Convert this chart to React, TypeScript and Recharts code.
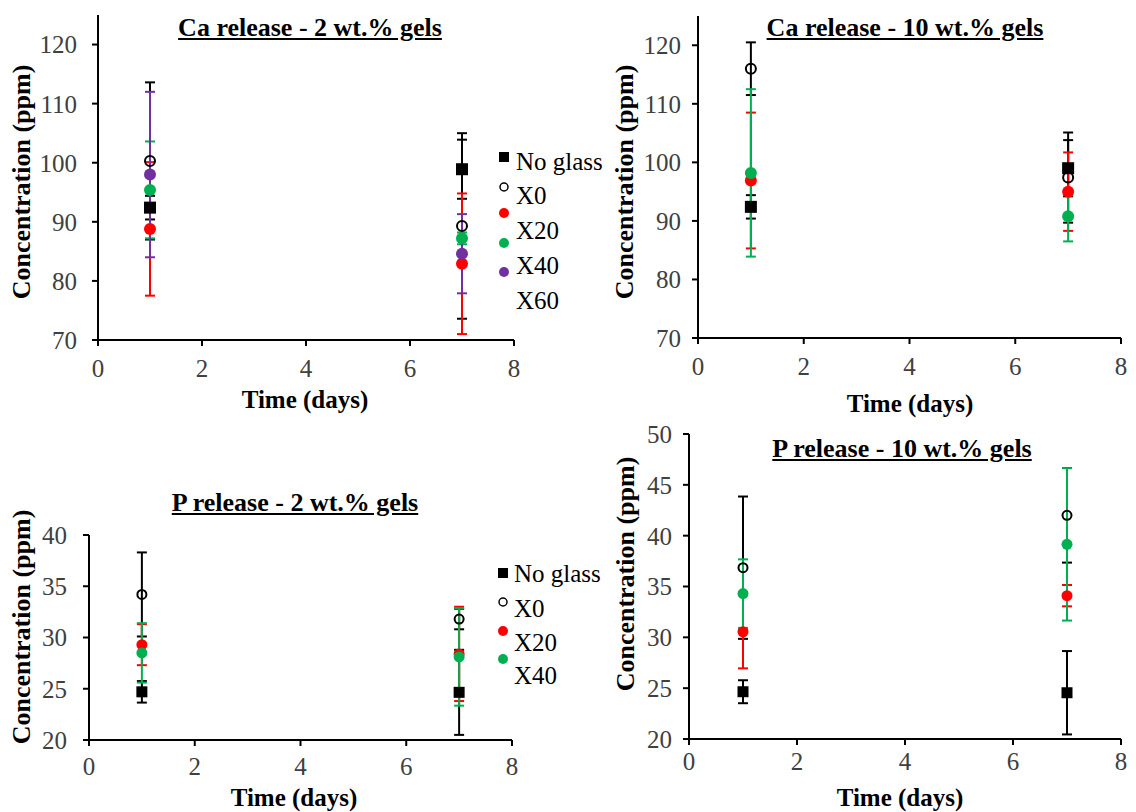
import React from 'react';
import { ScatterChart, Scatter, XAxis, YAxis, ErrorBar } from 'recharts';

const DAYS = [1, 7];
const X_TICKS = [0, 2, 4, 6, 8];
const SERIES_NAMES = ['No glass', 'X0', 'X20', 'X40', 'X60'];
const SERIES_COLORS = ['#000000', '#000000', '#ff0000', '#00b050', '#7030a0'];

// Ca release - 2 wt.% gels, mean and sd at day 1 / day 7
const ca2NoGlass = [92.4, 98.9];
const ca2NoGlassSd = [2.0, 5.0];
const ca2X0 = [100.3, 89.3];
const ca2X0Sd = [13.3, 15.7];
const ca2X20 = [88.8, 82.9];
const ca2X20Sd = [11.3, 11.9];
const ca2X40 = [95.4, 87.2];
const ca2X40Sd = [8.2, 1.0];
const ca2X60 = [98.0, 84.6];
const ca2X60Sd = [14.0, 6.7];

// Ca release - 10 wt.% gels
const ca10NoGlass = [92.4, 99.0];
const ca10NoGlassSd = [2.0, 4.8];
const ca10X0 = [116.0, 97.4];
const ca10X0Sd = [4.5, 7.7];
const ca10X20 = [96.9, 95.0];
const ca10X20Sd = [11.6, 6.7];
const ca10X40 = [98.2, 90.8];
const ca10X40Sd = [14.3, 4.3];

// P release - 2 wt.% gels
const p2NoGlass = [24.7, 24.65];
const p2NoGlassSd = [1.05, 4.15];
const p2X0 = [34.2, 31.8];
const p2X0Sd = [4.1, 1.0];
const p2X20 = [29.3, 28.4];
const p2X20Sd = [2.0, 4.6];
const p2X40 = [28.5, 28.1];
const p2X40Sd = [2.9, 4.75];

// P release - 10 wt.% gels
const p10NoGlass = [24.65, 24.55];
const p10NoGlassSd = [1.13, 4.1];
const p10X0 = [36.85, 42.0];
const p10X0Sd = [7.0, 4.65];
const p10X20 = [30.55, 34.1];
const p10X20Sd = [3.6, 1.05];
const p10X40 = [34.3, 39.15];
const p10X40Sd = [3.37, 7.5];

const CA_TICKS = [70, 80, 90, 100, 110, 120];
const P2_TICKS = [20, 25, 30, 35, 40];
const P10_TICKS = [20, 25, 30, 35, 40, 45, 50];

const FONT = '"Liberation Serif", "Times New Roman", serif';

const markerShape = (i: number, s: number) => (props: any) => {
  const { cx, cy } = props;
  if (i === 0) return <rect x={cx - s / 2} y={cy - s / 2} width={s} height={s} fill="#000" />;
  if (i === 1) return <circle cx={cx} cy={cy} r={s / 2 - 1} fill="none" stroke="#000" strokeWidth={2} />;
  return <circle cx={cx} cy={cy} r={s / 2} fill={SERIES_COLORS[i]} />;
};

const Panel = ({ geo, means, sds, yDomain, yTicks, yMargin, xMargin, size }: any) => {
  const { L, T, R, B } = geo;
  const yAxisW = 80;
  const xAxisH = 50;
  const pad = 20;
  const left = L - yAxisW;
  const top = T - pad;
  const width = R + 10 - left;
  const height = B + xAxisH - top;
  const series = means.map((m: number[], i: number) =>
    DAYS.map((d, j) => ({ x: d, y: m[j], err: sds[i][j] }))
  );
  const tickStyle = { fill: '#404040', fontSize: 25, fontFamily: FONT };
  return (
    <div style={{ position: 'absolute', left, top }}>
      <ScatterChart width={width} height={height} margin={{ top: pad, right: 10, bottom: 0, left: 0 }}>
        <XAxis
          type="number"
          dataKey="x"
          domain={[0, 8]}
          ticks={X_TICKS}
          interval={0}
          height={xAxisH}
          axisLine={{ stroke: '#000', strokeWidth: 2 }}
          tickLine={{ stroke: '#000', strokeWidth: 2 }}
          tickSize={6}
          tickMargin={xMargin}
          tick={tickStyle}
        />
        <YAxis
          type="number"
          dataKey="y"
          domain={yDomain}
          ticks={yTicks}
          interval={0}
          width={yAxisW}
          axisLine={{ stroke: '#000', strokeWidth: 2 }}
          tickLine={{ stroke: '#000', strokeWidth: 2 }}
          tickSize={6}
          tickMargin={yMargin}
          tick={tickStyle}
        />
        {series.map((data: any[], i: number) => (
          <Scatter key={'err' + i} data={data} shape={() => <g />} isAnimationActive={false}>
            <ErrorBar dataKey="err" direction="y" width={5} stroke={SERIES_COLORS[i]} strokeWidth={2} isAnimationActive={false} />
          </Scatter>
        ))}
        {series.map((data: any[], i: number) => (
          <Scatter key={'pt' + i} name={SERIES_NAMES[i]} data={data} shape={markerShape(i, size)} isAnimationActive={false} />
        ))}
      </ScatterChart>
    </div>
  );
};

const Title = ({ x, y, text }: any) => (
  <div style={{ position: 'absolute', left: x, top: y, transform: 'translate(-50%, -50%)', whiteSpace: 'nowrap',
    fontFamily: FONT, fontWeight: 'bold', fontSize: 26, textDecoration: 'underline', color: '#000' }}>
    {text}
  </div>
);

const AxisTitle = ({ x, y, text, rotate, size = 25 }: any) => (
  <div style={{ position: 'absolute', left: x, top: y, transform: `translate(-50%, -50%)${rotate ? ' rotate(-90deg)' : ''}`,
    whiteSpace: 'nowrap', fontFamily: FONT, fontWeight: 'bold', fontSize: size, color: '#000' }}>
    {text}
  </div>
);

const LegendMark = ({ i, x, y }: any) => (
  <svg style={{ position: 'absolute', left: x - 7, top: y - 7 }} width={14} height={14}>
    {i === 0 && <rect x={2} y={2} width={10} height={10} fill="#000" />}
    {i === 1 && <circle cx={7} cy={7} r={4} fill="none" stroke="#000" strokeWidth={1.5} />}
    {i > 1 && <circle cx={7} cy={7} r={5} fill={SERIES_COLORS[i]} />}
  </svg>
);

const LegendText = ({ x, y, text }: any) => (
  <div style={{ position: 'absolute', left: x, top: y, transform: 'translateY(-50%)', whiteSpace: 'nowrap',
    fontFamily: FONT, fontSize: 25, color: '#000', lineHeight: 1 }}>
    {text}
  </div>
);

export default function App() {
  const legend1Marks = [156.7, 186.7, 213.3, 243.3, 271.7];
  const legend1Text = [160.7, 195, 230, 265, 300];
  const legend3Marks = [573.3, 601.7, 630.7, 659];
  const legend3Text = [573, 608, 641.7, 675];
  return (
    <div style={{ position: 'absolute', left: 0, top: 0, width: 1136, height: 812, background: '#fff', overflow: 'hidden' }}>
      <Panel
        geo={{ L: 98, T: 15, R: 514, B: 340 }}
        means={[ca2NoGlass, ca2X0, ca2X20, ca2X40, ca2X60]}
        sds={[ca2NoGlassSd, ca2X0Sd, ca2X20Sd, ca2X40Sd, ca2X60Sd]}
        yDomain={[70, 125]}
        yTicks={CA_TICKS}
        yMargin={15}
        xMargin={13}
        size={12}
      />
      <Panel
        geo={{ L: 698, T: 16, R: 1121, B: 338 }}
        means={[ca10NoGlass, ca10X0, ca10X20, ca10X40]}
        sds={[ca10NoGlassSd, ca10X0Sd, ca10X20Sd, ca10X40Sd]}
        yDomain={[70, 125]}
        yTicks={CA_TICKS}
        yMargin={11}
        xMargin={13}
        size={12}
      />
      <Panel
        geo={{ L: 89, T: 535, R: 512, B: 740 }}
        means={[p2NoGlass, p2X0, p2X20, p2X40]}
        sds={[p2NoGlassSd, p2X0Sd, p2X20Sd, p2X40Sd]}
        yDomain={[20, 40]}
        yTicks={P2_TICKS}
        yMargin={16}
        xMargin={11}
        size={11}
      />
      <Panel
        geo={{ L: 689, T: 434, R: 1121, B: 739 }}
        means={[p10NoGlass, p10X0, p10X20, p10X40]}
        sds={[p10NoGlassSd, p10X0Sd, p10X20Sd, p10X40Sd]}
        yDomain={[20, 50]}
        yTicks={P10_TICKS}
        yMargin={11}
        xMargin={7}
        size={11}
      />

      <Title x={310} y={28} text="Ca release - 2 wt.% gels" />
      <Title x={905} y={28} text="Ca release - 10 wt.% gels" />
      <Title x={295} y={503} text="P release - 2 wt.% gels" />
      <Title x={902} y={449} text="P release - 10 wt.% gels" />

      <AxisTitle x={22} y={182} text="Concentration (ppm)" rotate size={26} />
      <AxisTitle x={625} y={182} text="Concentration (ppm)" rotate size={26} />
      <AxisTitle x={22} y={627} text="Concentration (ppm)" rotate size={26} />
      <AxisTitle x={626} y={574} text="Concentration (ppm)" rotate size={26} />

      <AxisTitle x={305} y={400} text="Time (days)" />
      <AxisTitle x={910} y={404} text="Time (days)" />
      <AxisTitle x={294} y={798} text="Time (days)" />
      <AxisTitle x={900} y={798} text="Time (days)" />

      {legend1Marks.map((y, i) => <LegendMark key={'m1' + i} i={i} x={504} y={y} />)}
      {legend1Text.map((y, i) => <LegendText key={'t1' + i} x={516} y={y} text={SERIES_NAMES[i]} />)}
      {legend3Marks.map((y, i) => <LegendMark key={'m3' + i} i={i} x={503} y={y} />)}
      {legend3Text.map((y, i) => <LegendText key={'t3' + i} x={514} y={y} text={SERIES_NAMES[i]} />)}
    </div>
  );
}
